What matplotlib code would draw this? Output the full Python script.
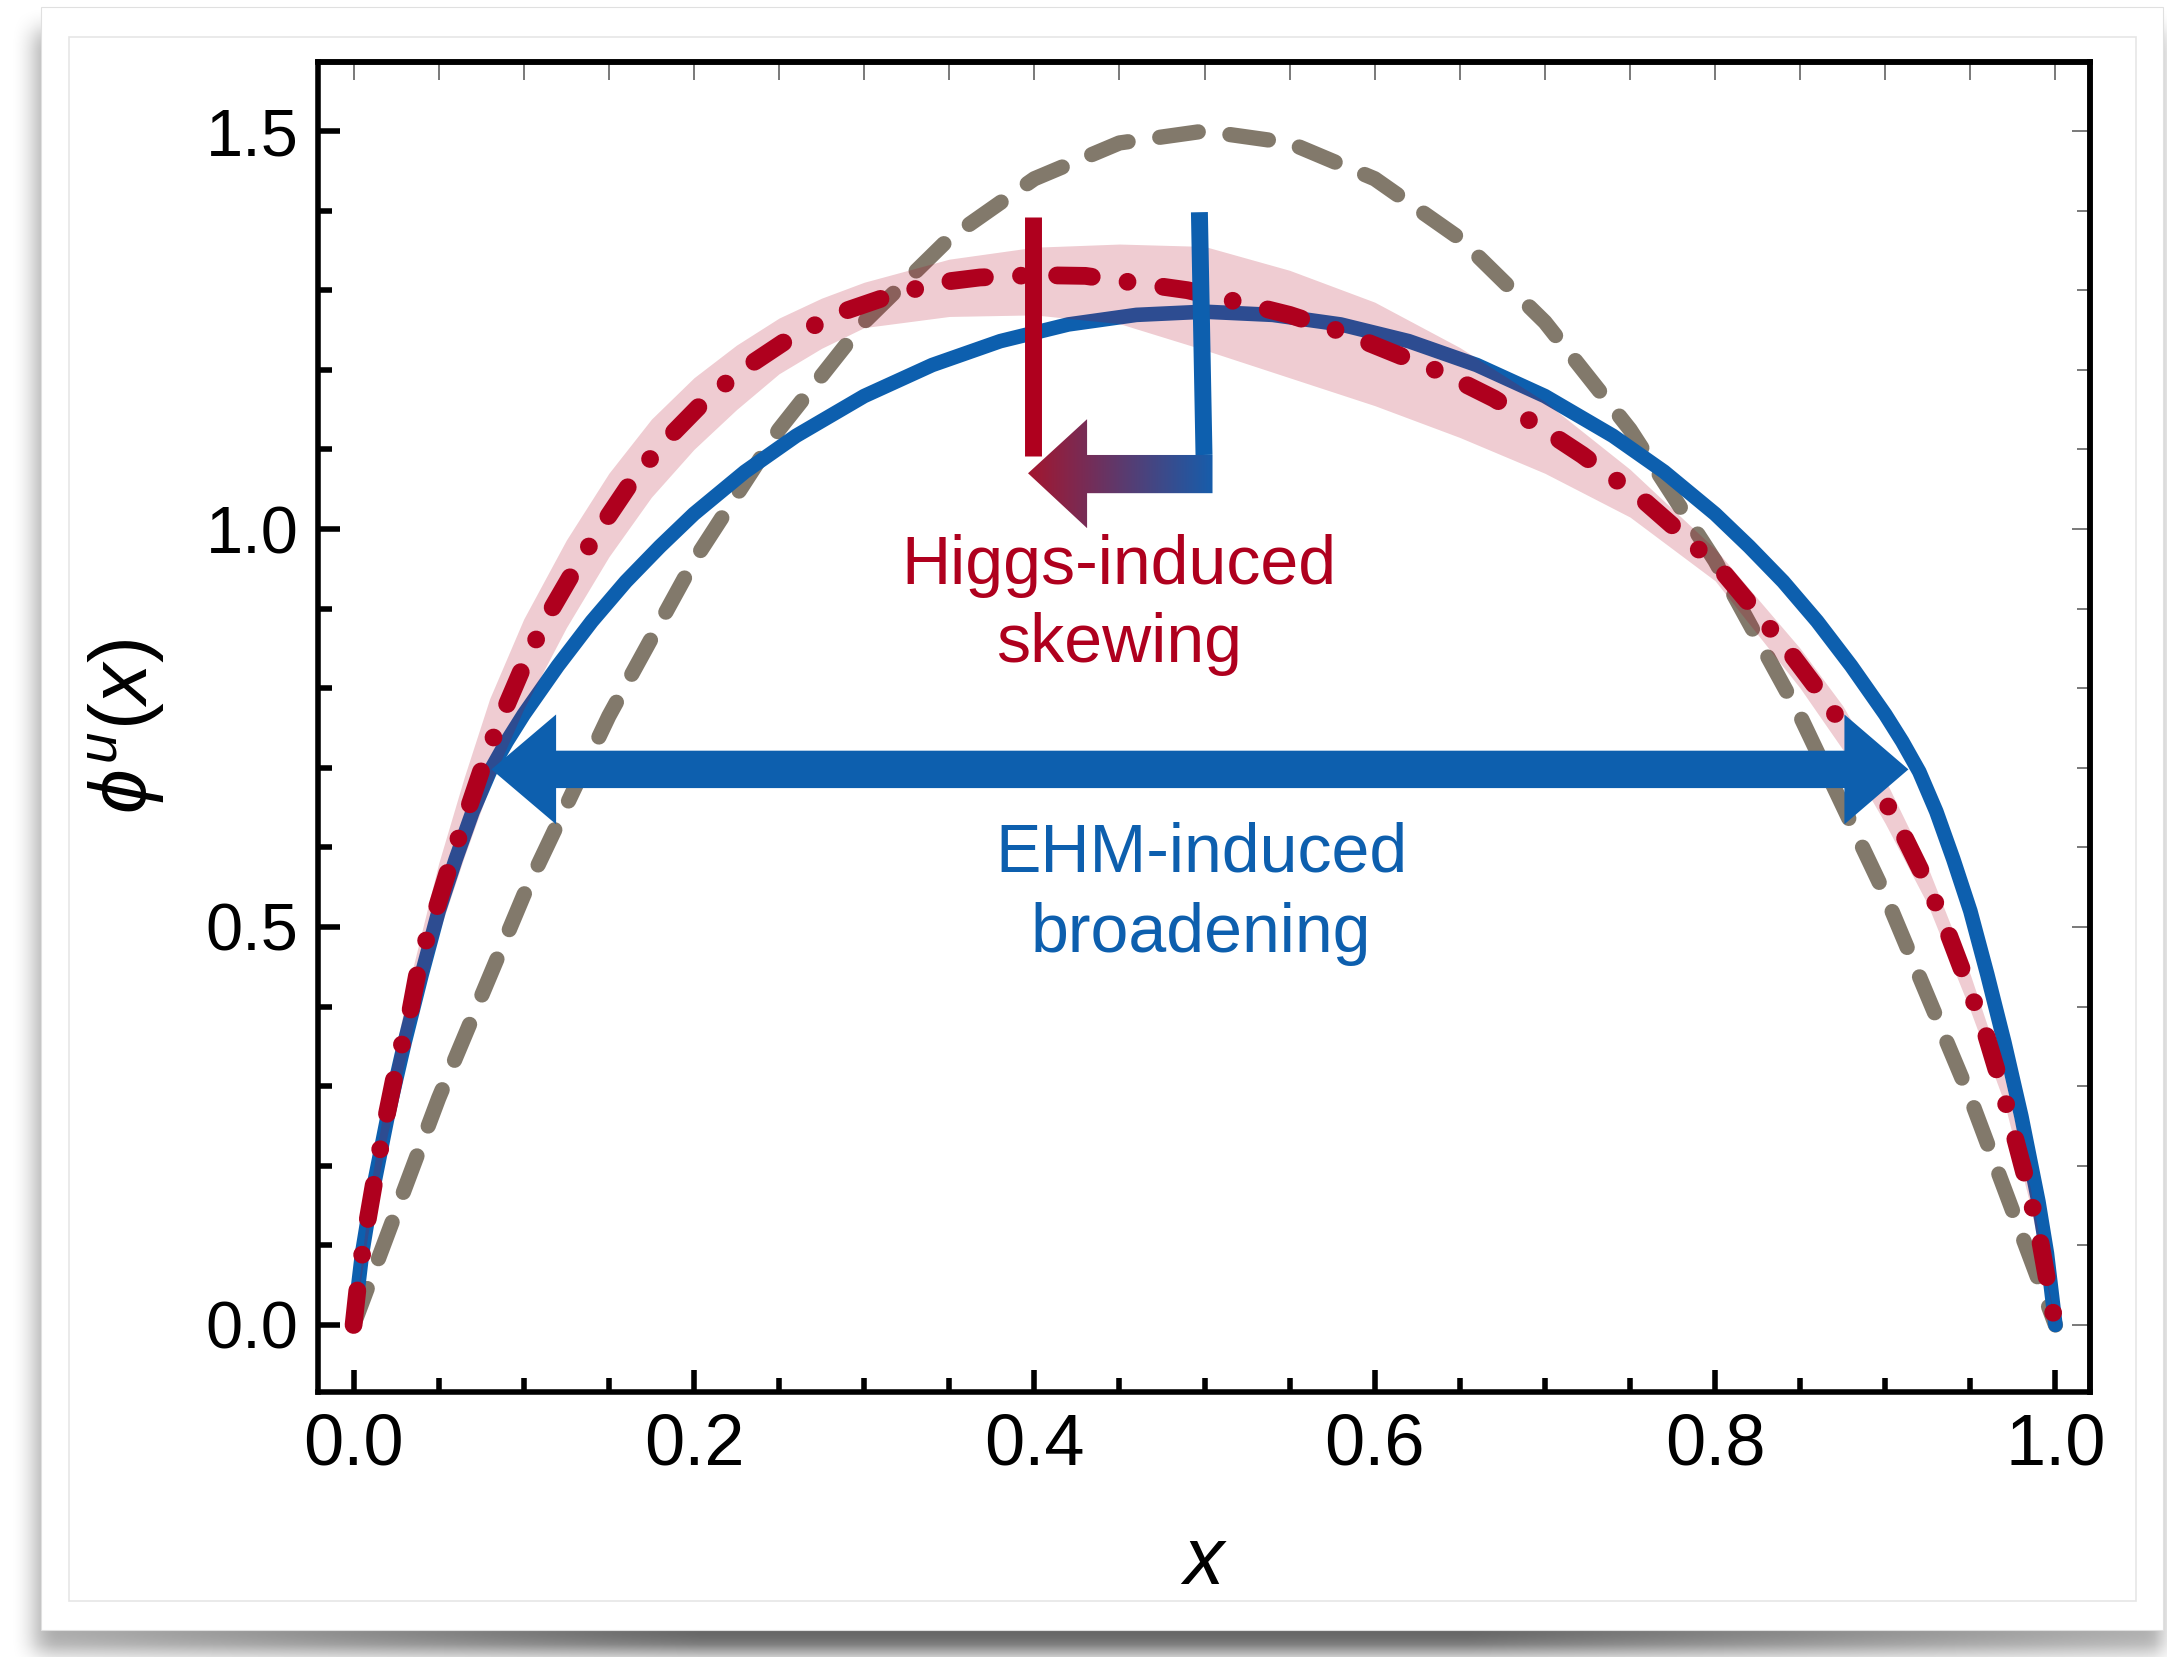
import numpy as np
import matplotlib

matplotlib.use("Agg")
import matplotlib.pyplot as plt
from matplotlib.colors import LinearSegmentedColormap
from matplotlib.patches import Polygon, Rectangle
from matplotlib.ticker import FormatStrFormatter, MultipleLocator, NullLocator

plt.rcParams["font.family"] = ["Liberation Sans", "DejaVu Sans"]
plt.rcParams["mathtext.fontset"] = "custom"
plt.rcParams["mathtext.rm"] = "Liberation Sans"
plt.rcParams["mathtext.it"] = "Liberation Sans:italic"
plt.rcParams["lines.scale_dashes"] = False

RED = "#af001e"
BLUE = "#0d5fae"
GRAY = "#82796b"

# asymptotic profile (gray dashed)
gray_x = [0, .05, .1, .15, .2, .25, .3, .35, .4, .45, .5,
          .55, .6, .65, .7, .75, .8, .85, .9, .95, 1]
gray_y = [0, .285, .54, .765, .96, 1.125, 1.26, 1.365, 1.44, 1.485, 1.5,
          1.485, 1.44, 1.365, 1.26, 1.125, .96, .765, .54, .285, 0]

# EHM-broadened profile (blue solid), symmetric about x = 0.5
blue_half_x = [0, .005, .01, .02, .03, .04, .05, .06, .07, .08, .09, .1, .12, .14,
               .16, .18, .2, .23, .26, .3, .34, .38, .42, .46]
blue_half_y = [0, .09, .155, .262, .355, .44, .52, .585, .645, .695, .733, .767, .828, .884,
               .934, .978, 1.019, 1.072, 1.117, 1.167, 1.206, 1.236, 1.257, 1.269]
blue_peak = 1.273
blue_x = blue_half_x + [.5] + [1 - v for v in reversed(blue_half_x)]
blue_y = blue_half_y + [blue_peak] + list(reversed(blue_half_y))

# Higgs-skewed profile (red dash-dot)
red_x = [0, .0033, .0082, .0137, .0195, .0257, .0335, .039, .049, .058, .068, .0786, .09,
         .102, .116, .132, .149, .166, .187, .209, .234, .26, .289, .319, .349, .368, .40,
         .43, .46, .49, .52, .55, .58, .61, .64, .67, .695, .722, .758, .782, .805, .825,
         .845, .864, .882, .911, .925, .937, .948, .959, .968, .976, .984, .991, .9965, 1]
red_y = [0, .065, .131, .199, .264, .329, .396, .459, .525, .588, .652, .719, .779,
         .839, .898, .957, 1.014, 1.068, 1.119, 1.167, 1.208, 1.245, 1.274, 1.296, 1.311, 1.316, 1.319,
         1.318, 1.309, 1.300, 1.285, 1.269, 1.248, 1.222, 1.196, 1.164, 1.131, 1.093, 1.036, .991, .945, .894,
         .842, .788, .731, .614, .553, .492, .430, .366, .302, .237, .172, .106, .040, 0]

# uncertainty band of the red profile
band_x = [0, .01, .02, .035, .05, .065, .08, .1, .125, .15, .175, .2, .225, .25, .275, .3,
          .35, .4, .45, .5, .55, .6, .65, .7, .75, .8, .85, .875, .9, .925, .95, .97, .985, 1]
band_lo = [0, .135, .24, .375, .492, .588, .677, .774, .876, .965, 1.04, 1.10, 1.15, 1.195, 1.227, 1.253,
           1.267, 1.269, 1.258, 1.225, 1.19, 1.155, 1.115, 1.07, 1.015, .935, .80, .723, .63, .528, .395, .279, .152, 0]
band_hi = [0, .175, .30, .45, .58, .688, .787, .887, .986, 1.07, 1.138, 1.19, 1.231, 1.265, 1.29, 1.31,
           1.339, 1.354, 1.358, 1.355, 1.325, 1.285, 1.228, 1.16, 1.075, .975, .85, .778, .685, .575, .44, .312, .174, 0]

W, H = 2167, 1657
fig = plt.figure(figsize=(W / 100, H / 100), dpi=100)

# card with a soft drop shadow behind the plot
bg = fig.add_axes([0, 0, 1, 1])
bg.axis("off")


def box_blur(a, r, axis):
    a = np.moveaxis(a, axis, -1)
    p = np.pad(a, [(0, 0), (r + 1, r)], mode="constant")
    c = np.cumsum(p, axis=-1)
    out = (c[:, 2 * r + 1:] - c[:, :-2 * r - 1]) / (2 * r + 1)
    return np.moveaxis(out, -1, axis)


mask = np.zeros((H, W))
mask[30:H - 2, 34:W] = 1.0
for _ in range(2):
    mask = box_blur(mask, 12, 0)
    mask = box_blur(mask, 12, 1)
cols = np.arange(W)
ramp = np.clip(0.5 + 0.5 * np.minimum(cols / 700, (W - cols) / 700), 0, 1)
shadow = np.zeros((H, W, 4))
shadow[..., 3] = mask * 0.6 * ramp[None, :]
bg.imshow(shadow, extent=(0, W, H, 0), interpolation="nearest", zorder=0)
bg.add_patch(Rectangle((41, 7), 2122, 1623, fc="white", ec="#e0e0e0", lw=0.8, zorder=1))
bg.add_patch(Rectangle((69, 37), 2067, 1564, fill=False, ec="#e6e6e6", lw=1.2, zorder=2))
bg.set_xlim(0, W)
bg.set_ylim(H, 0)

ax = fig.add_axes([318 / W, 1 - 1392 / H, 1772 / W, 1330 / H])

ax.plot(gray_x, gray_y, color=GRAY, lw=11, dashes=(28, 23),
        dash_capstyle="round", zorder=2)
ax.plot(blue_x, blue_y, color=BLUE, lw=10.5, solid_capstyle="round",
        solid_joinstyle="round", zorder=3)
ax.fill_between(band_x, band_lo, band_hi, color=RED, alpha=0.2, lw=0, zorder=4)
ax.plot(red_x, red_y, color=RED, lw=12.8, dashes=(25, 26, 0.01, 26),
        dash_capstyle="round", zorder=5)

# "Higgs-induced skewing" marker: bars at the two peaks and a gradient arrow
ax.plot([0.399, 0.399], [1.092, 1.392], color=RED, lw=12.2, solid_capstyle="butt", zorder=7)
ax.plot([0.497, 0.4997], [1.398, 1.093], color=BLUE, lw=12.2, solid_capstyle="butt", zorder=7)
skew_pts = [(0.5047, 1.045), (0.5047, 1.093), (0.431, 1.093), (0.431, 1.138),
            (0.3963, 1.070), (0.431, 1.001), (0.431, 1.045)]
skew_cmap = LinearSegmentedColormap.from_list("skew", ["#a3162f", "#175dab"])
grad = np.linspace(0, 1, 256).reshape(1, -1)
im = ax.imshow(grad, cmap=skew_cmap, extent=(0.3963, 0.5047, 1.001, 1.138),
               aspect="auto", origin="lower", interpolation="bilinear", zorder=7)
skew_poly = Polygon(skew_pts, closed=True, fc="none", ec="none")
ax.add_patch(skew_poly)
im.set_clip_path(skew_poly)

# "EHM-induced broadening" double arrow
ehm_pts = [(0.081, 0.698), (0.119, 0.767), (0.119, 0.7215), (0.876, 0.7215),
           (0.876, 0.767), (0.9136, 0.698), (0.876, 0.629), (0.876, 0.6745),
           (0.119, 0.6745), (0.119, 0.629)]
ax.add_patch(Polygon(ehm_pts, closed=True, fc=BLUE, ec="none", zorder=8))

for txt, x, y, c in [("Higgs-induced", 0.45, 0.9306, RED), ("skewing", 0.45, 0.8333, RED),
                     ("EHM-induced", 0.498, 0.5694, BLUE), ("broadening", 0.498, 0.4688, BLUE)]:
    ax.text(x, y, txt, color=c, fontsize=49, ha="center", va="baseline", zorder=9)

ax.set_xlim(-0.0209, 1.0203)
ax.set_ylim(-0.0842, 1.5867)

ax.xaxis.set_major_locator(MultipleLocator(0.2))
ax.xaxis.set_minor_locator(MultipleLocator(0.05))
ax.yaxis.set_major_locator(MultipleLocator(0.5))
ax.yaxis.set_minor_locator(MultipleLocator(0.1))
ax.xaxis.set_major_formatter(FormatStrFormatter("%.1f"))
ax.yaxis.set_major_formatter(FormatStrFormatter("%.1f"))
ax.tick_params(which="both", direction="in", top=False, right=False, width=4, color="black")
ax.tick_params(which="major", length=16)
ax.tick_params(which="minor", length=10)
ax.tick_params(axis="x", pad=15, labelsize=52)
ax.tick_params(axis="y", pad=14, labelsize=48)
for s in ax.spines.values():
    s.set_linewidth(4)

top = ax.secondary_xaxis("top")
top.xaxis.set_major_locator(MultipleLocator(0.05))
top.xaxis.set_minor_locator(NullLocator())
top.tick_params(direction="in", length=12.7, width=1.1, color="#555555", labeltop=False)
top.spines["top"].set_linewidth(4)

right = ax.secondary_yaxis("right")
right.yaxis.set_major_locator(MultipleLocator(0.5))
right.yaxis.set_minor_locator(MultipleLocator(0.1))
right.tick_params(which="both", direction="in", width=1.1, color="#555555", labelright=False)
right.tick_params(which="major", length=13)
right.tick_params(which="minor", length=9.6)
right.spines["right"].set_linewidth(4)

ax.set_xlabel("$x$", fontsize=58)
ax.xaxis.set_label_coords(0.5, -0.1444)
ax.xaxis.label.set_va("baseline")
ax.set_ylabel(r"$\phi^u(x)$", fontsize=58)
ax.yaxis.set_label_coords(-0.0959, 0.5)
ax.yaxis.label.set_va("baseline")

fig.savefig("out.png", dpi=100)
